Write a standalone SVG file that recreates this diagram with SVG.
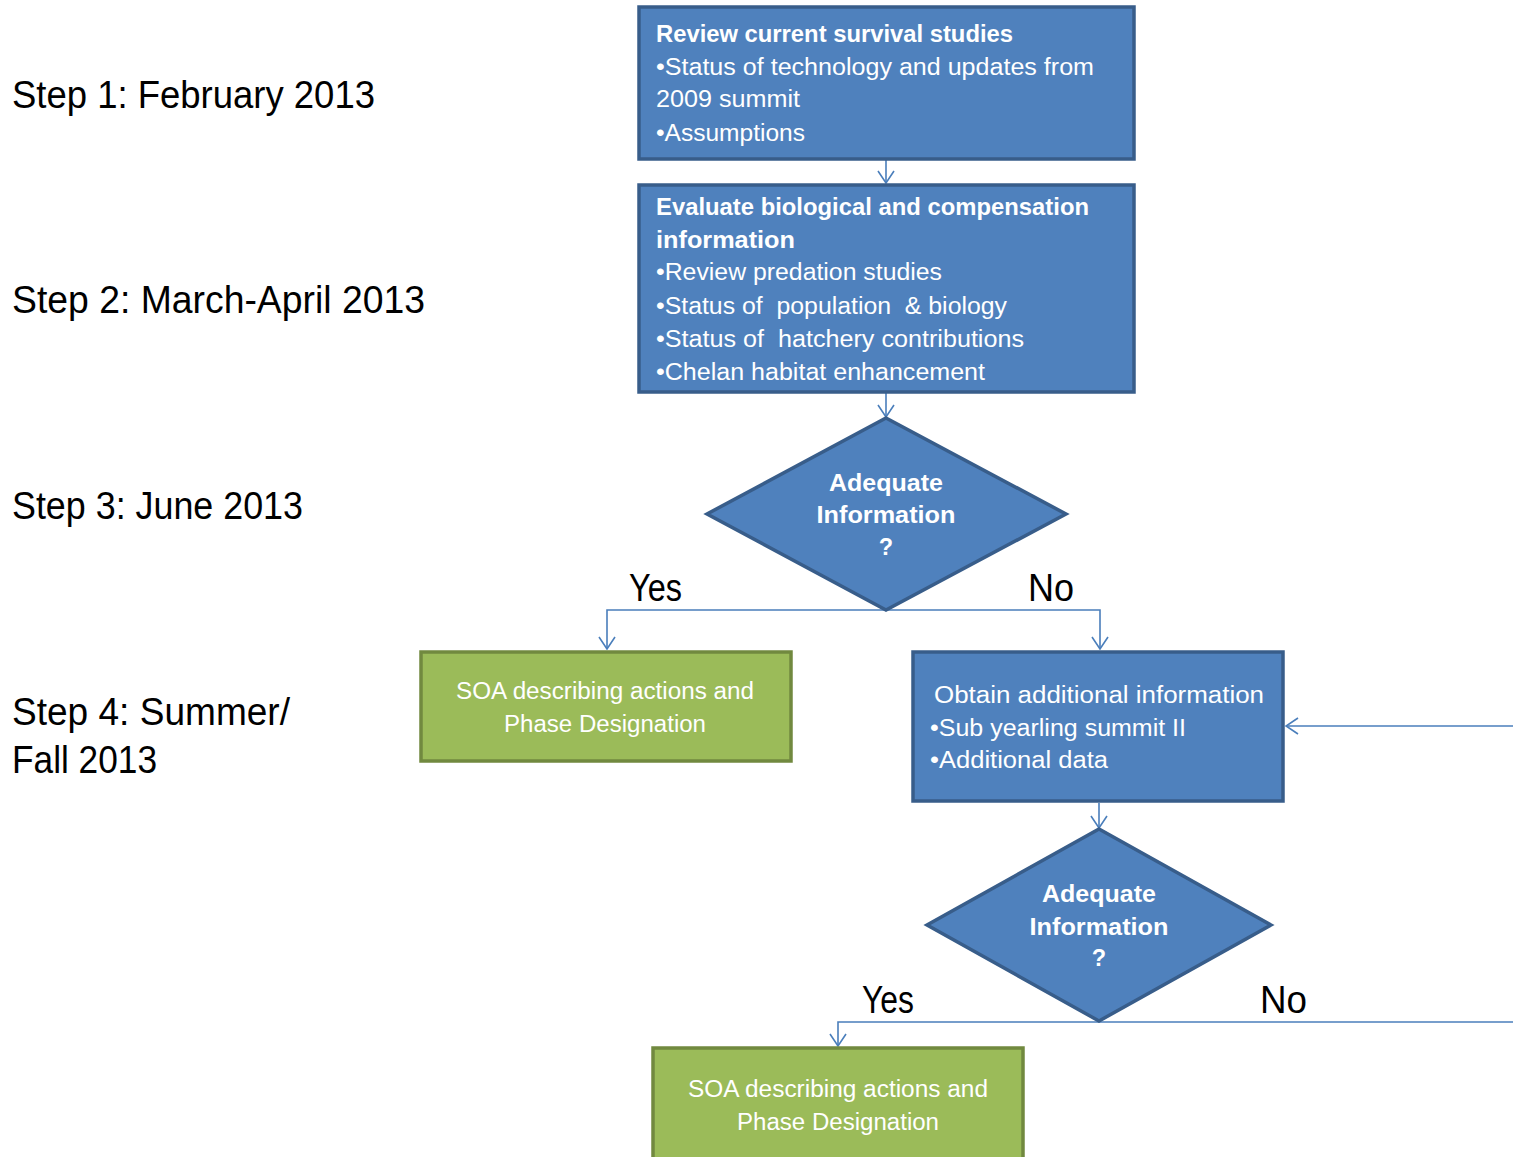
<svg xmlns="http://www.w3.org/2000/svg" width="1513" height="1157" viewBox="0 0 1513 1157">
<style>
.lbl{font-family:"Liberation Sans",Arial,sans-serif;font-size:38px;fill:#000}
.t{font-family:"Liberation Sans",Arial,sans-serif;font-size:23.5px;fill:#fff}
.b{font-weight:bold}
.blue{fill:#4F81BD;stroke:#385D8A;stroke-width:3.5}
.green{fill:#9BBB59;stroke:#71893F;stroke-width:3.5}
.c{fill:none;stroke:#4A7EBB;stroke-width:1.6}
</style>
<defs>
<marker id="ah" markerUnits="userSpaceOnUse" markerWidth="14" markerHeight="20" viewBox="0 0 14 20" refX="13" refY="10" orient="auto">
<path d="M1,2 L13,10 L1,18" fill="none" stroke="#4A7EBB" stroke-width="1.6"/>
</marker>
</defs>
<rect width="1513" height="1157" fill="#fff"/>
<g id="steps">
<text class="lbl" x="12" y="108" textLength="363" lengthAdjust="spacingAndGlyphs">Step 1: February 2013</text>
<text class="lbl" x="12" y="313" textLength="413" lengthAdjust="spacingAndGlyphs">Step 2: March-April 2013</text>
<text class="lbl" x="12" y="519" textLength="291" lengthAdjust="spacingAndGlyphs">Step 3: June 2013</text>
<text class="lbl" x="12" y="725" textLength="278" lengthAdjust="spacingAndGlyphs">Step 4: Summer/</text>
<text class="lbl" x="12" y="773" textLength="145" lengthAdjust="spacingAndGlyphs">Fall 2013</text>
</g>
<g id="connectors">
<line class="c" x1="886" y1="160" x2="886" y2="183" marker-end="url(#ah)"/>
<line class="c" x1="886" y1="393" x2="886" y2="417" marker-end="url(#ah)"/>
<polyline class="c" points="886,610 607,610 607,649" marker-end="url(#ah)"/>
<polyline class="c" points="886,610 1100,610 1100,649" marker-end="url(#ah)"/>
<line class="c" x1="1513" y1="726" x2="1286" y2="726" marker-end="url(#ah)"/>
<line class="c" x1="1099" y1="803" x2="1099" y2="828" marker-end="url(#ah)"/>
<line class="c" x1="1099" y1="1022" x2="1513" y2="1022"/>
<polyline class="c" points="1099,1022 838,1022 838,1046" marker-end="url(#ah)"/>
<text class="lbl" x="629" y="601" textLength="53" lengthAdjust="spacingAndGlyphs">Yes</text>
<text class="lbl" x="1028" y="601" textLength="46" lengthAdjust="spacingAndGlyphs">No</text>
<text class="lbl" x="862" y="1013" textLength="52" lengthAdjust="spacingAndGlyphs">Yes</text>
<text class="lbl" x="1260" y="1013" textLength="47" lengthAdjust="spacingAndGlyphs">No</text>
</g>
<g id="review">
<rect class="blue" x="639" y="7" width="495" height="152"/>
<text class="t b" x="656" y="42" textLength="357" lengthAdjust="spacingAndGlyphs">Review current survival studies</text>
<text class="t" x="656" y="75" textLength="438" lengthAdjust="spacingAndGlyphs">•Status of technology and updates from</text>
<text class="t" x="656" y="107" textLength="144" lengthAdjust="spacingAndGlyphs">2009 summit</text>
<text class="t" x="656" y="141" textLength="149" lengthAdjust="spacingAndGlyphs">•Assumptions</text>
</g>
<g id="evaluate">
<rect class="blue" x="639" y="185" width="495" height="207"/>
<text class="t b" x="656" y="215" textLength="433" lengthAdjust="spacingAndGlyphs">Evaluate biological and compensation</text>
<text class="t b" x="656" y="248" textLength="139" lengthAdjust="spacingAndGlyphs">information</text>
<text class="t" x="656" y="280" textLength="286" lengthAdjust="spacingAndGlyphs">•Review predation studies</text>
<text class="t" x="656" y="314" textLength="351" lengthAdjust="spacingAndGlyphs" xml:space="preserve">•Status of  population  &amp; biology</text>
<text class="t" x="656" y="347" textLength="368" lengthAdjust="spacingAndGlyphs" xml:space="preserve">•Status of  hatchery contributions</text>
<text class="t" x="656" y="380" textLength="329" lengthAdjust="spacingAndGlyphs">•Chelan habitat enhancement</text>
</g>
<g id="decision1">
<polygon class="blue" points="886,418 1066,514 886,610 707,514"/>
<text class="t b" x="886" y="491" text-anchor="middle" textLength="114" lengthAdjust="spacingAndGlyphs">Adequate</text>
<text class="t b" x="886" y="523" text-anchor="middle" textLength="139" lengthAdjust="spacingAndGlyphs">Information</text>
<text class="t b" x="886" y="555" text-anchor="middle">?</text>
</g>
<g id="soa1">
<rect class="green" x="421" y="652" width="370" height="109"/>
<text class="t" x="605" y="699" text-anchor="middle" textLength="298" lengthAdjust="spacingAndGlyphs">SOA describing actions and</text>
<text class="t" x="605" y="732" text-anchor="middle" textLength="202" lengthAdjust="spacingAndGlyphs">Phase Designation</text>
</g>
<g id="obtain">
<rect class="blue" x="913" y="652" width="370" height="149"/>
<text class="t" x="934" y="703" textLength="330" lengthAdjust="spacingAndGlyphs">Obtain additional information</text>
<text class="t" x="930" y="736" textLength="256" lengthAdjust="spacingAndGlyphs">•Sub yearling summit II</text>
<text class="t" x="930" y="768" textLength="178" lengthAdjust="spacingAndGlyphs">•Additional data</text>
</g>
<g id="decision2">
<polygon class="blue" points="1099,829 1271,925 1099,1021 927,925"/>
<text class="t b" x="1099" y="902" text-anchor="middle" textLength="114" lengthAdjust="spacingAndGlyphs">Adequate</text>
<text class="t b" x="1099" y="935" text-anchor="middle" textLength="139" lengthAdjust="spacingAndGlyphs">Information</text>
<text class="t b" x="1099" y="966" text-anchor="middle">?</text>
</g>
<g id="soa2">
<rect class="green" x="653" y="1048" width="370" height="115"/>
<text class="t" x="838" y="1097" text-anchor="middle" textLength="300" lengthAdjust="spacingAndGlyphs">SOA describing actions and</text>
<text class="t" x="838" y="1130" text-anchor="middle" textLength="202" lengthAdjust="spacingAndGlyphs">Phase Designation</text>
</g>
</svg>
